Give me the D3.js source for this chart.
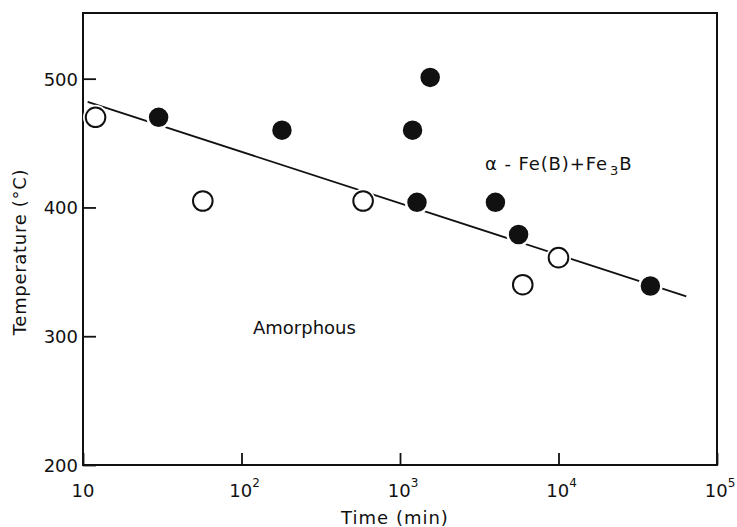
<!DOCTYPE html>
<html lang="en">
<head>
<meta charset="UTF-8">
<title>Temperature vs time</title>
<script src="https://d3js.org/d3.v7.min.js"></script>
<style>
  body { margin: 0; background: #fff; }
  svg text { font-family: "DejaVu Sans", sans-serif; fill: #111; }
</style>
</head>
<body>
<svg></svg>
<script>
// amorphous samples (open circles)
const openTimes = [12, 57, 585, 5950, 10000];
const openTemps = [470, 405, 405, 340, 361];

// crystallized samples (filled circles)
const filledTimes = [30, 180, 1200, 1550, 1280, 4000, 5600, 38000];
const filledTemps = [470, 460, 460, 501, 404, 404, 379, 339];

// boundary line end points
const lineTimes = [10.7, 64000];
const lineTemps = [482, 331];

const xTickValues = [10, 100, 1000, 10000, 100000];
const xTickExps = [null, 2, 3, 4, 5];
const yTickValues = [200, 300, 400, 500];

const width = 737, height = 527;
const margin = {top: 13, right: 20, bottom: 62, left: 83};

const svg = d3.select("svg")
    .attr("width", width)
    .attr("height", height);

const x = d3.scaleLog()
    .domain([10, 100000])
    .range([margin.left, width - margin.right]);

const y = d3.scaleLinear()
    .domain([200, 551])
    .range([height - margin.bottom, margin.top]);

// frame
svg.append("rect")
    .attr("x", margin.left)
    .attr("y", margin.top)
    .attr("width", width - margin.left - margin.right)
    .attr("height", height - margin.top - margin.bottom)
    .attr("fill", "none")
    .attr("stroke", "#111")
    .attr("stroke-width", 2);

// inward ticks
svg.append("g")
    .attr("transform", `translate(0,${height - margin.bottom})`)
    .call(d3.axisBottom(x).tickValues(xTickValues).tickSize(-12).tickFormat(""))
    .call(g => g.select(".domain").remove())
    .call(g => g.selectAll("line").attr("stroke", "#111").attr("stroke-width", 1.8));

svg.append("g")
    .attr("transform", `translate(${margin.left},0)`)
    .call(d3.axisLeft(y).tickValues(yTickValues).tickSize(-13).tickFormat(""))
    .call(g => g.select(".domain").remove())
    .call(g => g.selectAll("line").attr("stroke", "#111").attr("stroke-width", 1.8));

// y tick labels
svg.append("g")
    .selectAll("text")
    .data(yTickValues)
    .join("text")
    .attr("x", margin.left - 5)
    .attr("y", d => y(d) + 7)
    .attr("text-anchor", "end")
    .style("font-size", "18px")
    .text(d => d);

// x tick labels with superscripts
const xl = svg.append("g")
    .selectAll("text")
    .data(xTickValues)
    .join("text")
    .attr("x", (d, i) => x(d) + (xTickExps[i] ? 3 : 0))
    .attr("y", height - margin.bottom + 32)
    .attr("text-anchor", "middle")
    .style("font-size", "18px");
xl.append("tspan").text("10");
xl.filter((d, i) => xTickExps[i])
    .append("tspan")
    .attr("dy", -10)
    .style("font-size", "12px")
    .text(d => xTickExps[xTickValues.indexOf(d)]);

// axis titles
svg.append("text")
    .attr("x", (margin.left + width - margin.right) / 2 - 5)
    .attr("y", height - 3)
    .attr("text-anchor", "middle")
    .style("font-size", "18px")
    .style("letter-spacing", "1px")
    .text("Time (min)");

svg.append("text")
    .attr("transform", `translate(26,252) rotate(-90)`)
    .attr("text-anchor", "middle")
    .style("font-size", "18px")
    .style("letter-spacing", "0.7px")
    .text("Temperature (°C)");

// boundary line
svg.append("line")
    .attr("x1", x(lineTimes[0]))
    .attr("y1", y(lineTemps[0]))
    .attr("x2", x(lineTimes[1]))
    .attr("y2", y(lineTemps[1]))
    .attr("stroke", "#111")
    .attr("stroke-width", 1.8);

// points, white halo breaks the line like the original
const openPts = openTimes.map((t, i) => [t, openTemps[i]]);
svg.append("g")
    .selectAll("circle")
    .data(openPts)
    .join("circle")
    .attr("cx", d => x(d[0]))
    .attr("cy", d => y(d[1]))
    .attr("r", 12.5)
    .attr("fill", "#fff");
svg.append("g")
    .selectAll("circle")
    .data(openPts)
    .join("circle")
    .attr("cx", d => x(d[0]))
    .attr("cy", d => y(d[1]))
    .attr("r", 9.8)
    .attr("fill", "#fff")
    .attr("stroke", "#111")
    .attr("stroke-width", 2);

svg.append("g")
    .selectAll("circle")
    .data(filledTimes.map((t, i) => [t, filledTemps[i]]))
    .join("circle")
    .attr("cx", d => x(d[0]))
    .attr("cy", d => y(d[1]))
    .attr("r", 11)
    .attr("fill", "#111")
    .attr("stroke", "#fff")
    .attr("stroke-width", 2.5);

// region labels
const phase = svg.append("text")
    .attr("x", 485)
    .attr("y", 170)
    .style("font-size", "18px")
    .style("letter-spacing", "0.9px");
phase.append("tspan").text("α - Fe(B)+Fe");
phase.append("tspan").attr("dx", 2).attr("dy", 5).style("font-size", "13px").text("3");
phase.append("tspan").attr("dy", -5).text("B");

svg.append("text")
    .attr("x", 253)
    .attr("y", 334)
    .style("font-size", "18px")
    .text("Amorphous");
</script>
</body>
</html>
